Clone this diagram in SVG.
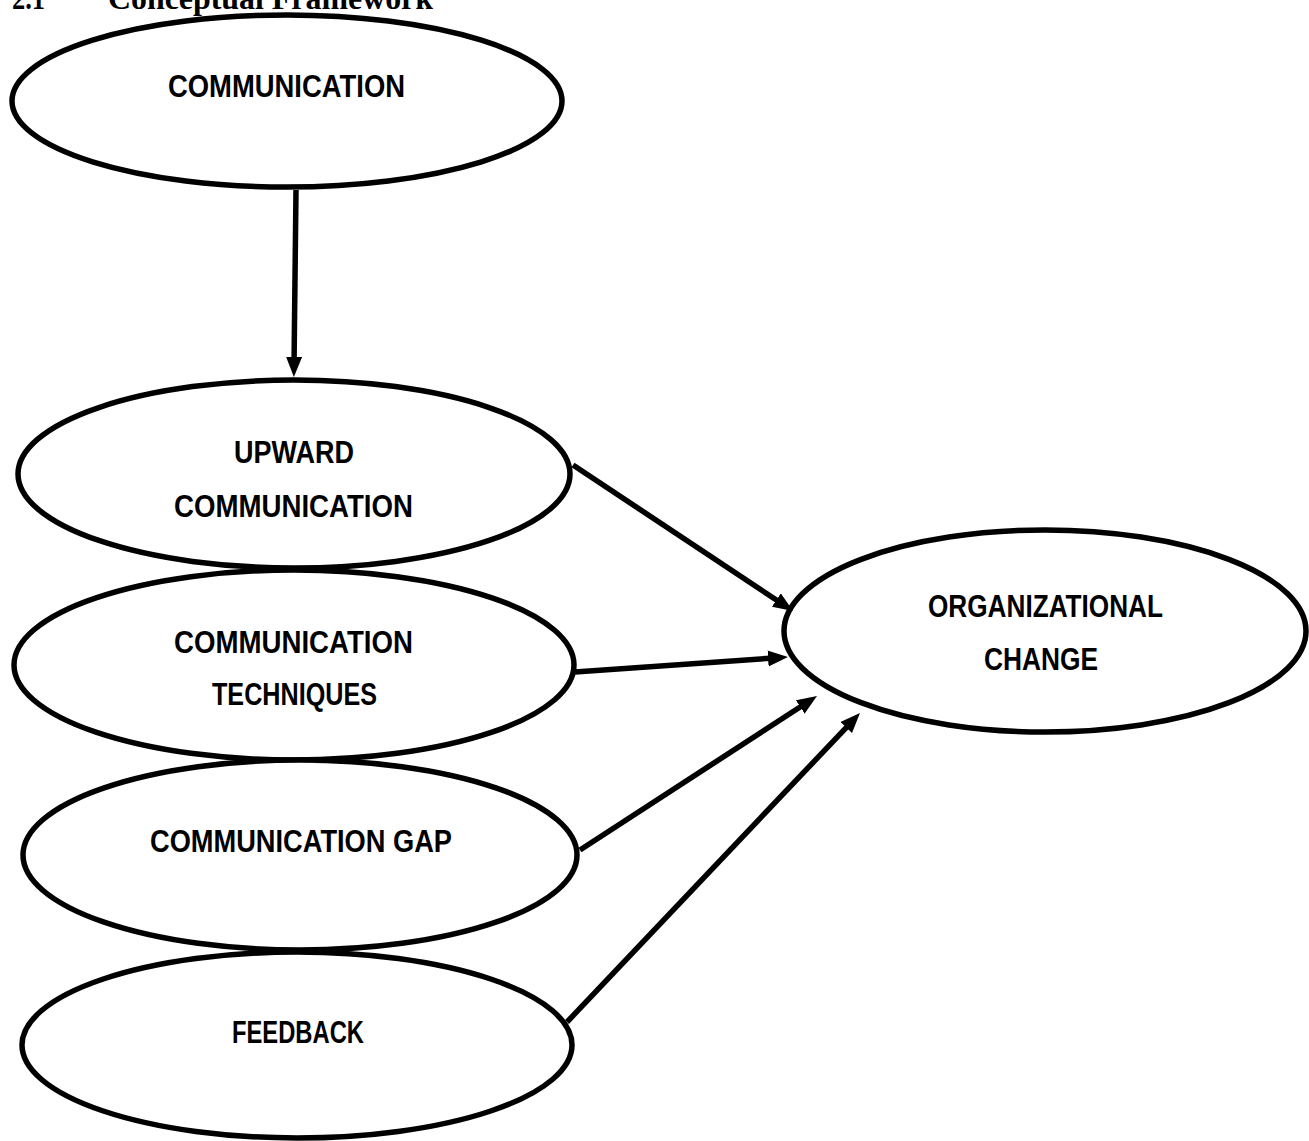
<svg xmlns="http://www.w3.org/2000/svg" width="1309" height="1141" viewBox="0 0 1309 1141">
<style>
.node ellipse{fill:#fff;stroke:#000;stroke-width:5.5}
.node text{font-family:"Liberation Sans",Arial,sans-serif;font-weight:bold;font-size:32px;fill:#000;text-anchor:middle}
.title{font-family:"Liberation Serif","Times New Roman",serif;font-weight:bold;font-size:32px;fill:#000}
.conn line{stroke:#000;stroke-width:5.5;marker-end:url(#ah)}
</style>
<defs>
<marker id="ah" markerUnits="userSpaceOnUse" markerWidth="22" markerHeight="18" refX="10" refY="8" orient="auto">
<path d="M0,0 L20,8 L0,16 z" fill="#000"/>
</marker>
</defs>
<rect width="1309" height="1141" fill="#fff"/>
<g id="title">
<text class="title" x="12" y="9" textLength="33" lengthAdjust="spacingAndGlyphs">2.1</text>
<text class="title" x="108" y="9" textLength="325" lengthAdjust="spacingAndGlyphs">Conceptual Framework</text>
</g>
<g id="communication" class="node">
<ellipse cx="287" cy="101" rx="275" ry="86"/>
<text x="286.5" y="97" textLength="237" lengthAdjust="spacingAndGlyphs">COMMUNICATION</text>
</g>
<g id="upward" class="node">
<ellipse cx="294" cy="474" rx="276" ry="94"/>
<text x="294" y="463" textLength="120" lengthAdjust="spacingAndGlyphs">UPWARD</text>
<text x="293.5" y="517" textLength="239" lengthAdjust="spacingAndGlyphs">COMMUNICATION</text>
</g>
<g id="techniques" class="node">
<ellipse cx="294" cy="665" rx="280" ry="95"/>
<text x="293.5" y="653" textLength="239" lengthAdjust="spacingAndGlyphs">COMMUNICATION</text>
<text x="294.5" y="705" textLength="165" lengthAdjust="spacingAndGlyphs">TECHNIQUES</text>
</g>
<g id="gap" class="node">
<ellipse cx="300" cy="855" rx="277" ry="95"/>
<text x="301" y="852" textLength="302" lengthAdjust="spacingAndGlyphs">COMMUNICATION GAP</text>
</g>
<g id="feedback" class="node">
<ellipse cx="297" cy="1045" rx="275" ry="93"/>
<text x="298" y="1043" textLength="132" lengthAdjust="spacingAndGlyphs">FEEDBACK</text>
</g>
<g id="orgchange" class="node">
<ellipse cx="1045" cy="631" rx="261" ry="101"/>
<text x="1045.5" y="617" textLength="235" lengthAdjust="spacingAndGlyphs">ORGANIZATIONAL</text>
<text x="1041" y="670" textLength="114" lengthAdjust="spacingAndGlyphs">CHANGE</text>
</g>
<g id="connectors" class="conn">
<line x1="296" y1="190" x2="294" y2="367"/>
<line x1="573" y1="465" x2="784.7" y2="605.5"/>
<line x1="575" y1="672" x2="778" y2="657.7"/>
<line x1="580" y1="850" x2="808.6" y2="701.5"/>
<line x1="567" y1="1022" x2="853.1" y2="720.3"/>
</g>
</svg>
